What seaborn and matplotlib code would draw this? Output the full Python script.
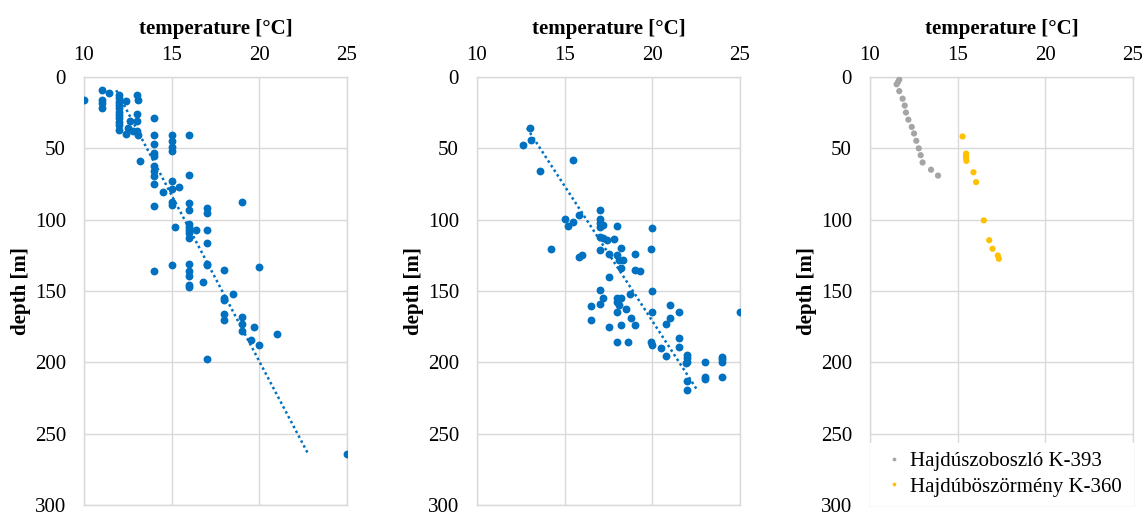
import numpy as np
import pandas as pd
import matplotlib
matplotlib.use("Agg")
import matplotlib.pyplot as plt
import seaborn as sns

# ---------------- data ----------------
# Panel 1
temp_a = [10.0, 11.0, 11.4, 11.0, 11.0, 11.0,
          12.0, 12.0, 12.0, 12.0, 12.0, 12.0, 12.0, 12.0, 12.0, 12.0, 12.0,
          12.4, 13.0, 13.1, 13.0, 13.0,
          12.6, 12.5, 12.4, 12.8, 13.0, 13.1,
          14.0, 14.0, 14.0, 14.0, 14.0, 14.0, 14.0, 14.0, 14.0,
          13.2, 15.0, 15.0, 15.0, 15.0, 16.0, 16.0,
          15.0, 15.0, 15.4, 14.5,
          14.0, 15.0, 15.0, 16.0, 16.0, 17.0, 17.0, 19.0,
          15.2, 16.0, 16.0, 16.0, 16.0, 16.0, 16.4, 17.0, 17.0,
          14.0, 15.0, 16.0, 16.0, 16.0, 17.0, 17.0, 18.0, 20.0,
          16.0, 16.0, 16.8, 18.5, 18.0, 18.0, 18.0, 18.0, 19.0, 19.0, 19.0,
          19.7, 21.0, 19.5, 20.0, 17.0, 25.0]
depth_a = [16, 9.3, 11, 16, 18.5, 22,
           12.7, 15, 17.4, 19.7, 22, 24.3, 26.6, 29, 31.3, 33.6, 37,
           17, 12.7, 16, 26, 31,
           31, 36, 40, 38, 37.5, 40.5,
           29, 41, 47, 53, 55.5, 62.5, 66, 69.4, 75,
           58.6, 41, 45, 49, 52, 41, 68.8,
           73, 78.7, 77, 80.5,
           90.5, 87.5, 90, 88.6, 93, 92, 95, 87.5,
           105.4, 102.7, 105, 107.3, 109.6, 113, 107.3, 107, 116.5,
           136, 132, 131, 136, 139.6, 131, 132, 135.5, 133.4,
           145.5, 147.5, 144, 152, 154.6, 156, 166, 170, 168, 173, 177.7,
           175, 180, 184, 187.6, 197.8, 264.5]

# Panel 2
temp_b = [13.0, 13.1, 12.6, 13.6, 15.5,
          15.0, 15.2, 15.5, 15.8, 17.0, 17.0, 17.0, 17.2, 17.0, 18.0, 20.0,
          17.0, 17.2, 17.4, 17.8,
          14.2, 15.8, 16.0, 17.0, 17.5, 18.2,
          18.0, 18.1, 18.3, 19.0, 19.9,
          18.2, 19.0, 19.3, 17.5,
          20.0, 17.0, 18.7,
          18.0, 18.2, 18.0, 18.1, 18.0, 18.5,
          17.2, 17.0, 16.5, 16.5, 18.8, 17.5, 18.2, 19.0,
          20.0, 21.0, 21.5, 21.0, 20.8, 25.0,
          18.0, 18.6, 19.9, 20.0, 20.5, 21.5, 21.5, 20.8,
          22.0, 22.0, 22.0, 21.9, 23.0, 23.0, 23.0,
          24.0, 24.0, 24.0, 24.0, 22.0, 22.0]
depth_b = [35.9, 44, 47.7, 66, 57.9,
           99.5, 104.5, 101.5, 96.5, 93, 99.5, 102, 104, 105, 104.5, 105.5,
           112.4, 113, 114, 113.7,
           120.4, 126, 125, 121.6, 124, 120,
           125, 128, 128.3, 124, 120.4,
           133.8, 135, 136, 140.3,
           150, 149.3, 152,
           154.6, 155, 157.6, 160, 165, 162.7,
           155, 158.8, 160.4, 170, 169, 175, 173.6, 174,
           165, 160, 165, 169, 173, 165,
           186, 186, 186, 187.6, 189.7, 182.8, 189, 195.7,
           195, 197.3, 200, 200.7, 200, 210, 211.8,
           196, 198, 200, 210, 212.8, 219.7]

# Panel 3
temp_k393 = [11.67, 11.60, 11.52, 11.67, 11.86, 11.98, 12.05, 12.19,
             12.38, 12.51, 12.64, 12.78, 12.89, 13.00, 13.48, 13.88]
depth_k393 = [1.8, 3.5, 5.1, 9.9, 15.2, 20.0, 24.9, 29.9,
              35.0, 39.6, 44.7, 50.0, 54.8, 59.9, 65.0, 69.1]
temp_k360 = [15.28, 15.48, 15.48, 15.48, 15.50, 15.90, 16.05,
             16.49, 16.80, 16.99, 17.29, 17.35]
depth_k360 = [41.7, 53.7, 55.3, 56.9, 58.8, 66.8, 73.7,
              100.5, 114.4, 120.4, 125.1, 127.4]

label_k393 = "Hajdúszoboszló K-393"
label_k360 = "Hajdúböszörmény K-360"
x_ticks = [10, 15, 20, 25]
y_ticks = [0, 50, 100, 150, 200, 250, 300]

# ---------------- style ----------------
sns.set_theme(style="white")
plt.rcParams['font.family'] = ['Liberation Serif', 'DejaVu Serif']
plt.rcParams['text.color'] = 'black'
plt.rcParams['axes.labelcolor'] = 'black'

BLUE = "#0070C0"
GRAY = "#A5A5A5"
ORANGE = "#FFC000"
GRID = "#D9D9D9"

fig = plt.figure(figsize=(11.45, 5.15), dpi=100)
lefts = [84 / 1145, 477 / 1145, 870 / 1145]
w = 263 / 1145
b = 10 / 515
h = 428 / 515
axes = [fig.add_axes([l, b, w, h]) for l in lefts]


def style_axis(ax):
    ax.set_xlim(10, 25)
    ax.set_ylim(300, 0)
    ax.set_xticks(x_ticks)
    ax.set_yticks(y_ticks)
    ax.xaxis.tick_top()
    ax.xaxis.set_label_position('top')
    ax.grid(True, color=GRID, linewidth=1.0)
    ax.set_axisbelow(True)
    for s in ax.spines.values():
        s.set_color(GRID)
        s.set_linewidth(1.0)
    ax.tick_params(axis='both', length=0, labelsize=15, colors='black')
    ax.tick_params(axis='x', pad=9)
    ax.tick_params(axis='y', pad=13)
    ax.set_xlabel("temperature [°C]", fontsize=15, fontweight='bold',
                  labelpad=8, color='black')
    ax.set_ylabel("depth [m]", fontsize=15, fontweight='bold',
                  labelpad=3, color='black')


def trend(ax, t, d):
    t = np.asarray(t, float)
    d = np.asarray(d, float)
    k, c = np.polyfit(d, t, 1)
    dd = np.array([d.min(), d.max()])
    ax.plot(k * dd + c, dd, linestyle=(0, (1, 1.2)), color=BLUE, linewidth=1.8)


df_a = pd.DataFrame({"temp": temp_a, "depth": depth_a})
df_b = pd.DataFrame({"temp": temp_b, "depth": depth_b})

ax = axes[0]
sns.scatterplot(data=df_a, x="temp", y="depth", ax=ax, color=BLUE, s=32,
                edgecolor=BLUE, linewidth=0, zorder=3)
trend(ax, temp_a, depth_a)
style_axis(ax)

ax = axes[1]
sns.scatterplot(data=df_b, x="temp", y="depth", ax=ax, color=BLUE, s=32,
                edgecolor=BLUE, linewidth=0, zorder=3)
trend(ax, temp_b, depth_b)
style_axis(ax)

ax = axes[2]
df_c = pd.DataFrame({
    "temp": temp_k393 + temp_k360,
    "depth": depth_k393 + depth_k360,
    "well": [label_k393] * len(temp_k393) + [label_k360] * len(temp_k360),
})
sns.scatterplot(data=df_c, x="temp", y="depth", hue="well", ax=ax,
                palette={label_k393: GRAY, label_k360: ORANGE}, s=20,
                linewidth=0, zorder=3)
style_axis(ax)
leg = ax.legend(loc='lower left', bbox_to_anchor=(0.0, 0.0, 1.0, 0.163),
                mode='expand', frameon=True, fontsize=15, markerscale=0.6,
                handlelength=1.5, handletextpad=0.0, borderaxespad=0.0,
                labelspacing=0.3, borderpad=0.4, title=None)
leg.get_frame().set_facecolor('white')
leg.get_frame().set_edgecolor('white')
leg.get_frame().set_alpha(1.0)
leg.get_frame().set_boxstyle('square', pad=0.0)

fig.savefig("out.png", dpi=100)
